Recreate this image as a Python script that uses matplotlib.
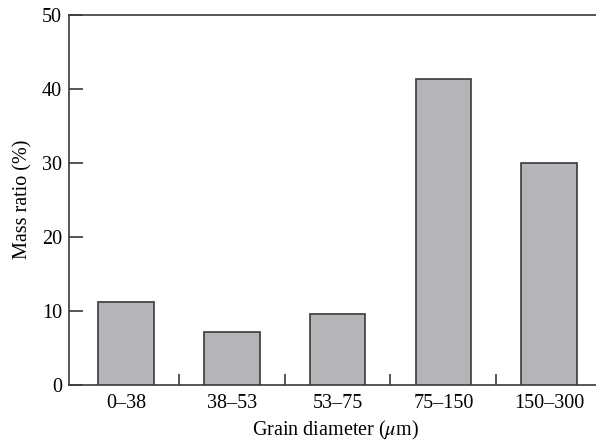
import numpy as np
import matplotlib
matplotlib.use("Agg")
import matplotlib.pyplot as plt

categories = ["0\u201338", "38\u201353", "53\u201375", "75\u2013150", "150\u2013300"]
mass_ratio = [11.2, 7.1, 9.5, 41.4, 30.0]

plt.rcParams["font.family"] = ["Liberation Serif", "DejaVu Serif"]
plt.rcParams["mathtext.fontset"] = "stix"

fig = plt.figure(figsize=(5.96, 4.47), dpi=100)
ax = fig.add_axes([69 / 596, 1 - 384.5 / 447, (596 - 69) / 596 + 0.01, 369.5 / 447])

x = np.arange(len(categories))
ax.bar(x, mass_ratio, width=0.525, color="#b4b5b9", edgecolor="#3a3a3a", linewidth=1.2, zorder=3)

ax.set_xlim(-0.54, 4.5)
ax.set_ylim(0, 50)
ax.set_yticks([0, 10, 20, 30, 40, 50])
ax.set_xticks(x)
ax.set_xticklabels(categories)
ax.set_xticks(x[:-1] + 0.5, minor=True)

ax.tick_params(axis="y", direction="in", length=10, width=1.2, color="#3a3a3a",
               labelsize=14.5, pad=5)
ax.tick_params(axis="x", which="major", length=0, labelsize=14.5, pad=7)
ax.tick_params(axis="x", which="minor", direction="in", length=8, width=1.2, color="#3a3a3a")

for side in ["left", "bottom", "top"]:
    ax.spines[side].set_color("#3a3a3a")
    ax.spines[side].set_linewidth(1.2)
ax.spines["right"].set_visible(False)

ax.set_ylabel("Mass ratio (%)", fontsize=14.5, labelpad=7)
ax.set_xlabel("Grain diameter ($\\mu$m)", fontsize=14.5, labelpad=4)

plt.savefig("out.png", dpi=100)
plt.close()
